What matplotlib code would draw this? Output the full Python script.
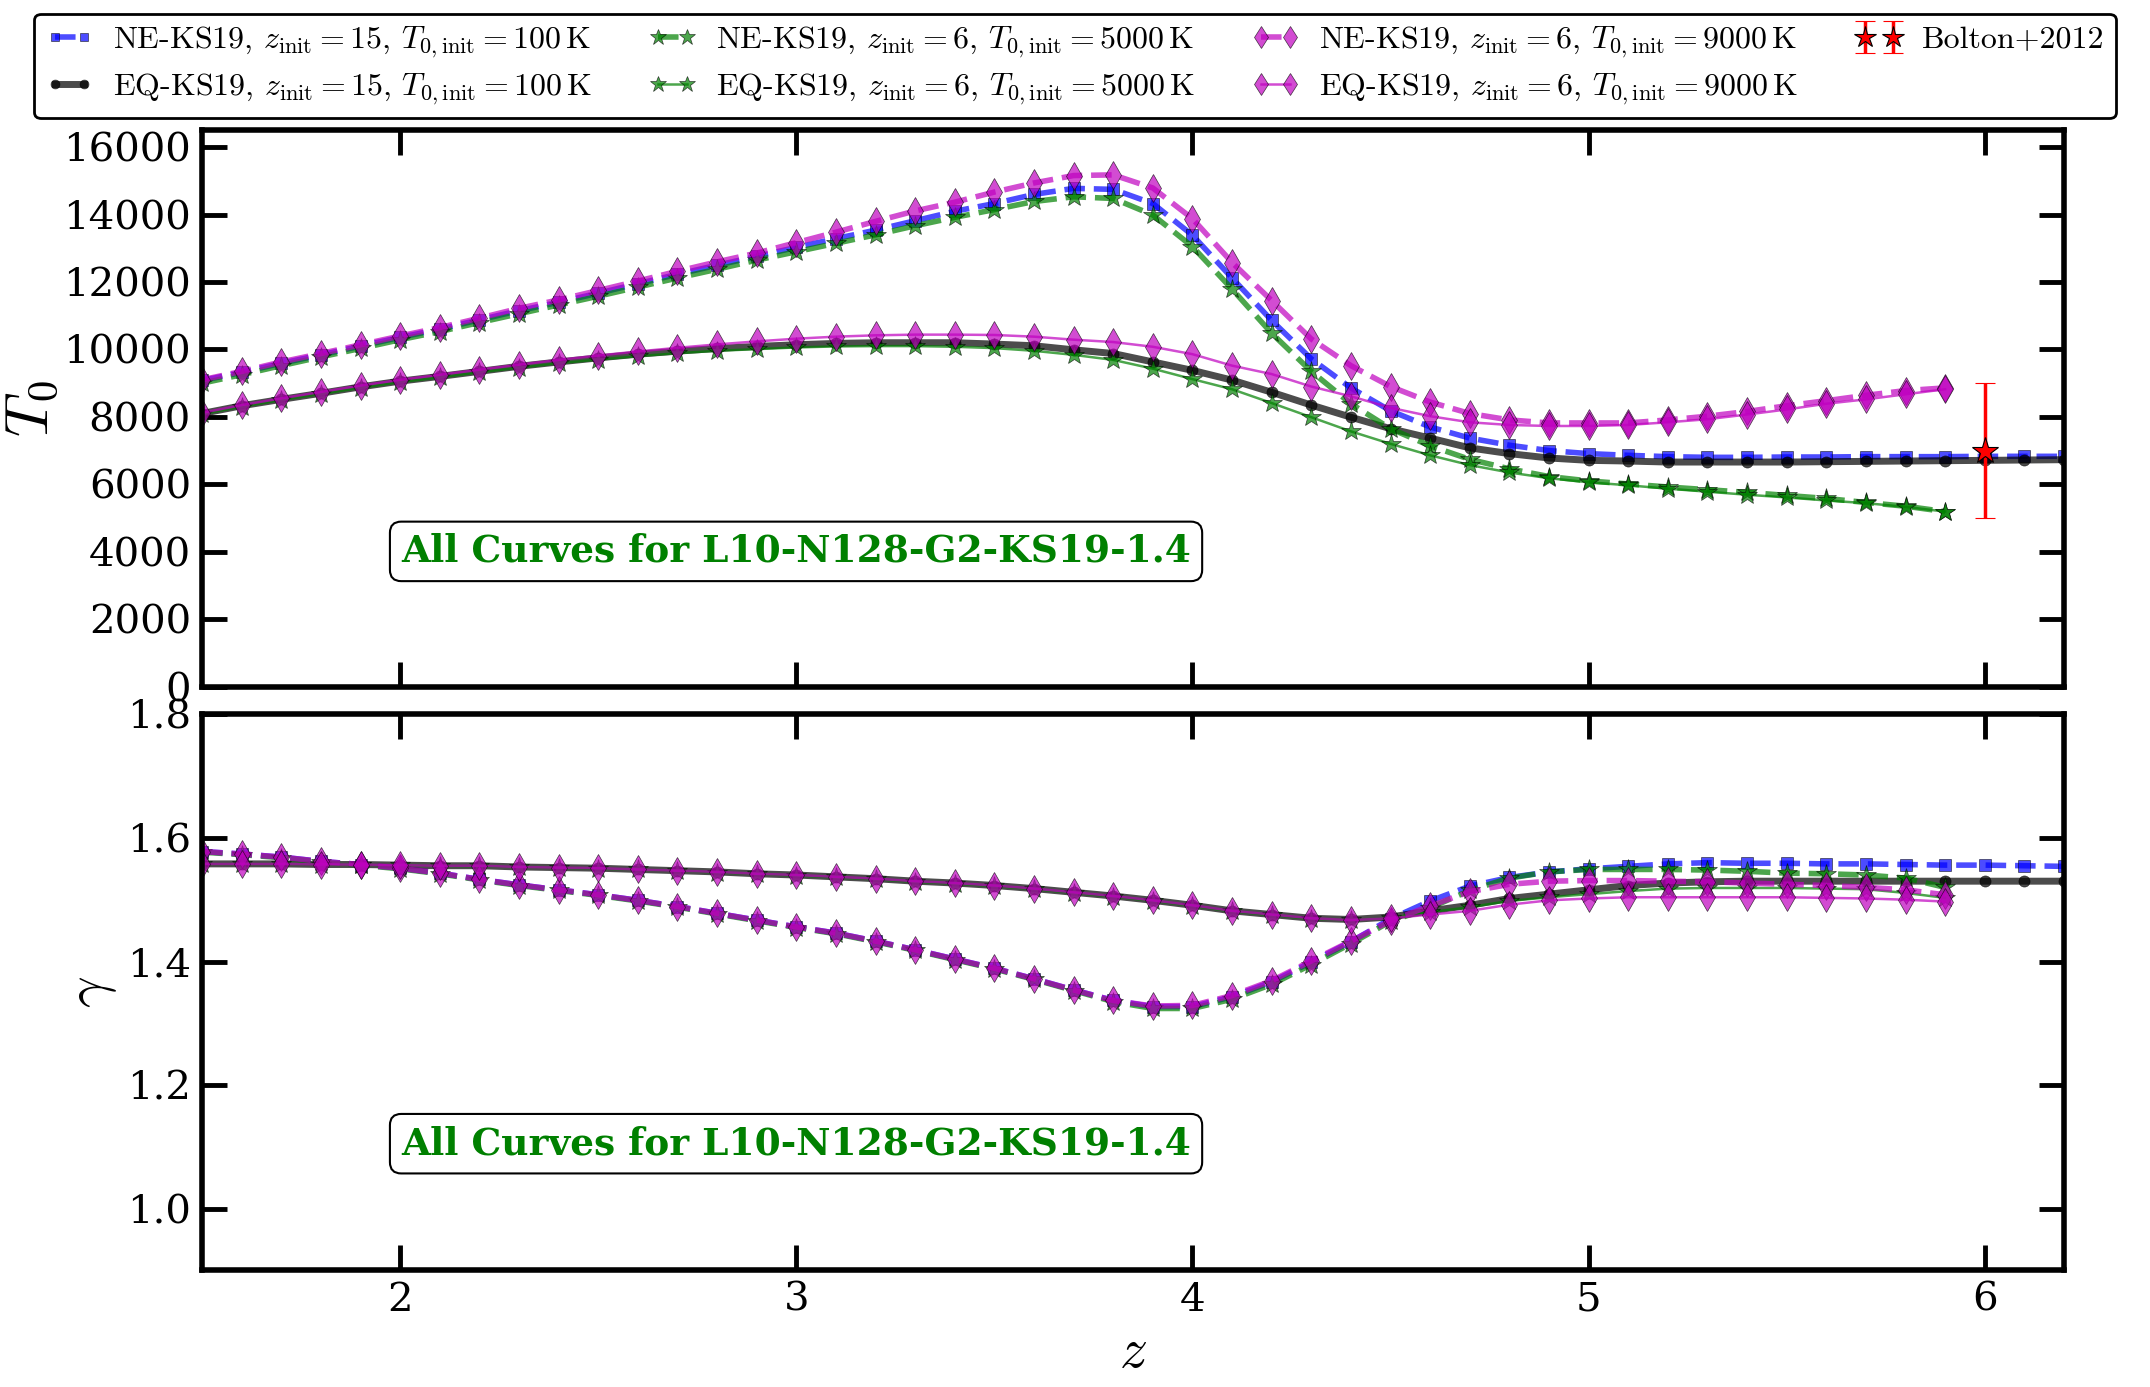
import numpy as np
import matplotlib
matplotlib.use('Agg')
import matplotlib.pyplot as plt
from matplotlib.font_manager import FontProperties

plt.rcParams['font.family'] = 'serif'
plt.rcParams['font.serif'] = ['DejaVu Serif']
plt.rcParams['mathtext.fontset'] = 'cm'

# redshift grid: z=15 runs go to 6.2, z=6 runs stop at 5.9
z_long = [1.5, 1.6, 1.7, 1.8, 1.9, 2.0, 2.1, 2.2, 2.3, 2.4, 2.5, 2.6, 2.7, 2.8,
          2.9, 3.0, 3.1, 3.2, 3.3, 3.4, 3.5, 3.6, 3.7, 3.8, 3.9, 4.0, 4.1, 4.2,
          4.3, 4.4, 4.5, 4.6, 4.7, 4.8, 4.9, 5.0, 5.1, 5.2, 5.3, 5.4, 5.5, 5.6,
          5.7, 5.8, 5.9, 6.0, 6.1, 6.2]
z_short = z_long[:45]

# T0 [K]
T0_ne_z15 = [9080, 9320, 9590, 9840, 10100, 10360, 10600, 10880, 11150, 11400,
             11670, 11950, 12230, 12500, 12760, 13030, 13290, 13540, 13820, 14100,
             14330, 14600, 14780, 14750, 14330, 13390, 12120, 10860, 9720, 8860,
             8180, 7700, 7370, 7160, 7000, 6910, 6860, 6820, 6800, 6800,
             6810, 6810, 6820, 6820, 6820, 6830, 6830, 6830]
T0_eq_z15 = [8100, 8330, 8520, 8700, 8890, 9060, 9200, 9350, 9500, 9630,
             9750, 9860, 9950, 10030, 10090, 10140, 10180, 10200, 10200, 10200,
             10160, 10110, 9990, 9880, 9630, 9380, 9090, 8730, 8350, 7990,
             7650, 7370, 7080, 6910, 6780, 6710, 6690, 6660, 6660, 6660,
             6660, 6670, 6680, 6690, 6700, 6710, 6720, 6730]
T0_ne_5000 = [9000, 9250, 9520, 9780, 10030, 10290, 10530, 10800, 11060, 11320,
              11580, 11850, 12120, 12380, 12650, 12900, 13150, 13400, 13670, 13920,
              14150, 14390, 14530, 14480, 13990, 13050, 11790, 10480, 9350, 8390,
              7650, 7140, 6740, 6460, 6230, 6100, 6010, 5920, 5840, 5760,
              5670, 5580, 5460, 5350, 5190]
T0_eq_5000 = [8080, 8300, 8500, 8680, 8860, 9030, 9170, 9320, 9460, 9590,
              9700, 9800, 9890, 9960, 10010, 10060, 10090, 10100, 10100, 10080,
              10040, 9960, 9840, 9690, 9430, 9120, 8820, 8410, 7990, 7570,
              7200, 6860, 6570, 6350, 6180, 6060, 5970, 5870, 5780, 5690,
              5610, 5520, 5440, 5330, 5190]
T0_ne_9000 = [9100, 9350, 9630, 9880, 10140, 10400, 10650, 10930, 11220, 11470,
              11750, 12030, 12320, 12600, 12860, 13170, 13480, 13800, 14110, 14370,
              14670, 14940, 15160, 15180, 14790, 13880, 12580, 11450, 10310, 9520,
              8900, 8440, 8100, 7910, 7820, 7820, 7820, 7910, 8020, 8160,
              8330, 8480, 8640, 8780, 8860]
T0_eq_9000 = [8120, 8350, 8550, 8740, 8930, 9100, 9250, 9400, 9550, 9690,
              9820, 9940, 10050, 10150, 10240, 10320, 10380, 10420, 10440, 10440,
              10430, 10380, 10290, 10220, 10080, 9860, 9520, 9270, 8900, 8610,
              8270, 8020, 7840, 7760, 7730, 7730, 7760, 7840, 7930, 8070,
              8220, 8390, 8520, 8670, 8820]

# gamma
g_ne_z15 = [1.578, 1.574, 1.569, 1.562, 1.557, 1.551, 1.543, 1.533, 1.524, 1.516,
            1.508, 1.499, 1.489, 1.478, 1.467, 1.456, 1.446, 1.433, 1.419, 1.404,
            1.389, 1.372, 1.354, 1.337, 1.327, 1.327, 1.343, 1.367, 1.399, 1.432,
            1.469, 1.498, 1.522, 1.536, 1.545, 1.550, 1.554, 1.558, 1.560, 1.559,
            1.559, 1.558, 1.558, 1.557, 1.556, 1.556, 1.555, 1.554]
g_eq_z15 = [1.558, 1.558, 1.558, 1.557, 1.557, 1.556, 1.555, 1.555, 1.553, 1.552,
            1.551, 1.549, 1.547, 1.545, 1.542, 1.540, 1.537, 1.534, 1.530, 1.527,
            1.523, 1.518, 1.512, 1.506, 1.499, 1.491, 1.482, 1.476, 1.470, 1.468,
            1.472, 1.482, 1.491, 1.502, 1.509, 1.516, 1.523, 1.527, 1.529, 1.530,
            1.530, 1.530, 1.530, 1.530, 1.530, 1.530, 1.530, 1.530]
g_ne_5000 = [1.577, 1.573, 1.568, 1.561, 1.556, 1.550, 1.542, 1.532, 1.523, 1.515,
             1.507, 1.498, 1.488, 1.477, 1.466, 1.455, 1.445, 1.432, 1.418, 1.403,
             1.388, 1.371, 1.353, 1.335, 1.324, 1.324, 1.339, 1.363, 1.395, 1.429,
             1.465, 1.487, 1.515, 1.535, 1.545, 1.549, 1.549, 1.549, 1.548, 1.546,
             1.543, 1.542, 1.540, 1.535, 1.520]
g_eq_5000 = [1.558, 1.558, 1.558, 1.557, 1.557, 1.556, 1.555, 1.554, 1.553, 1.552,
             1.550, 1.549, 1.547, 1.544, 1.542, 1.539, 1.536, 1.533, 1.529, 1.526,
             1.522, 1.517, 1.511, 1.505, 1.498, 1.490, 1.481, 1.475, 1.469, 1.467,
             1.470, 1.480, 1.488, 1.498, 1.504, 1.509, 1.514, 1.518, 1.519, 1.519,
             1.519, 1.518, 1.517, 1.511, 1.503]
g_ne_9000 = [1.578, 1.574, 1.569, 1.562, 1.557, 1.551, 1.543, 1.533, 1.524, 1.516,
             1.508, 1.499, 1.489, 1.478, 1.467, 1.456, 1.446, 1.433, 1.419, 1.404,
             1.389, 1.372, 1.354, 1.337, 1.328, 1.329, 1.345, 1.369, 1.401, 1.433,
             1.466, 1.490, 1.513, 1.525, 1.530, 1.531, 1.531, 1.530, 1.529, 1.527,
             1.525, 1.523, 1.520, 1.516, 1.508]
g_eq_9000 = [1.558, 1.558, 1.558, 1.557, 1.557, 1.556, 1.555, 1.555, 1.553, 1.552,
             1.551, 1.549, 1.547, 1.545, 1.542, 1.540, 1.537, 1.534, 1.530, 1.527,
             1.523, 1.518, 1.512, 1.506, 1.499, 1.491, 1.482, 1.476, 1.470, 1.467,
             1.470, 1.476, 1.482, 1.492, 1.499, 1.502, 1.504, 1.504, 1.504, 1.504,
             1.504, 1.503, 1.502, 1.500, 1.497]

# Bolton+2012 measurement
z_bolton = [6.0]
T0_bolton = [7000]
T0_bolton_err = [2000]

labels = [r'NE-KS19, $z_{\rm init}=15$, $T_{0,\rm init}=100\,{\rm K}$',
          r'EQ-KS19, $z_{\rm init}=15$, $T_{0,\rm init}=100\,{\rm K}$',
          r'NE-KS19, $z_{\rm init}=6$, $T_{0,\rm init}=5000\,{\rm K}$',
          r'EQ-KS19, $z_{\rm init}=6$, $T_{0,\rm init}=5000\,{\rm K}$',
          r'NE-KS19, $z_{\rm init}=6$, $T_{0,\rm init}=9000\,{\rm K}$',
          r'EQ-KS19, $z_{\rm init}=6$, $T_{0,\rm init}=9000\,{\rm K}$']

styles = [dict(color='b', ls='--', lw=4, marker='s', ms=8),
          dict(color='k', ls='-', lw=5, marker='o', ms=8),
          dict(color='g', ls='--', lw=4, marker='*', ms=15),
          dict(color='g', ls='-', lw=1.8, marker='*', ms=15),
          dict(color='m', ls='--', lw=4, marker='d', ms=14),
          dict(color='m', ls='-', lw=1.8, marker='d', ms=14)]

z_sets = [z_long, z_long, z_short, z_short, z_short, z_short]
T0_sets = [T0_ne_z15, T0_eq_z15, T0_ne_5000, T0_eq_5000, T0_ne_9000, T0_eq_9000]
g_sets = [g_ne_z15, g_eq_z15, g_ne_5000, g_eq_5000, g_ne_9000, g_eq_9000]

fig, (ax1, ax2) = plt.subplots(2, 1, figsize=(21.5, 13.87), dpi=100, sharex=True)
fig.subplots_adjust(left=0.094, right=0.960, top=0.906, bottom=0.084, hspace=0.05)

handles = []
for z, T, g, st, lab in zip(z_sets, T0_sets, g_sets, styles, labels):
    h, = ax1.plot(z, T, alpha=0.7, mec='k', mew=0.5, label=lab, **st)
    ax2.plot(z, g, alpha=0.7, mec='k', mew=0.5, **st)
    handles.append(h)

eb = ax1.errorbar(z_bolton, T0_bolton, yerr=T0_bolton_err, fmt='*', color='r',
                  ms=20, mec='k', mew=0.8, ecolor='r', elinewidth=2.5,
                  capsize=7, capthick=2, label='Bolton+2012', zorder=5)
handles.append(eb)

for ax in (ax1, ax2):
    ax.set_xlim(1.5, 6.2)
    for sp in ax.spines.values():
        sp.set_linewidth(4)
    ax.tick_params(which='major', direction='in', length=18, width=3.5,
                   top=True, right=True, labelsize=29, pad=8)
    ax.text(0.319, 0.243 if ax is ax1 else 0.228,
            'All Curves for L10-N128-G2-KS19-1.4', transform=ax.transAxes,
            ha='center', va='center', color='green', fontweight='bold',
            fontsize=27,
            bbox=dict(boxstyle='round,pad=0.3', fc='white', ec='k', lw=1.5))

ax1.set_ylim(0, 16500)
ax1.set_yticks(np.arange(0, 16001, 2000))
ax1.set_ylabel(r'$T_0$', fontsize=44, labelpad=2)

ax2.set_ylim(0.9, 1.8)
ax2.set_yticks([1.0, 1.2, 1.4, 1.6, 1.8])
ax2.set_yticklabels(['1.0', '1.2', '1.4', '1.6', '1.8'])
ax2.set_xticks([2, 3, 4, 5, 6])
ax2.set_ylabel(r'$\gamma$', fontsize=40, labelpad=6)
ax2.set_xlabel(r'$z$', fontsize=40, labelpad=4)

leg = fig.legend(handles, labels + ['Bolton+2012'], loc='upper center',
                 bbox_to_anchor=(0.5, 0.99), borderaxespad=0, ncol=4, numpoints=2,
                 prop=FontProperties(family='cmr10', size=23),
                 fancybox=True, handlelength=1.5, handletextpad=0.6,
                 columnspacing=1.8, markerscale=0.8,
                 borderpad=0.35, labelspacing=0.35, framealpha=1)
leg.get_frame().set_edgecolor('k')
leg.get_frame().set_linewidth(2)

fig.savefig('out.png', dpi=100)
